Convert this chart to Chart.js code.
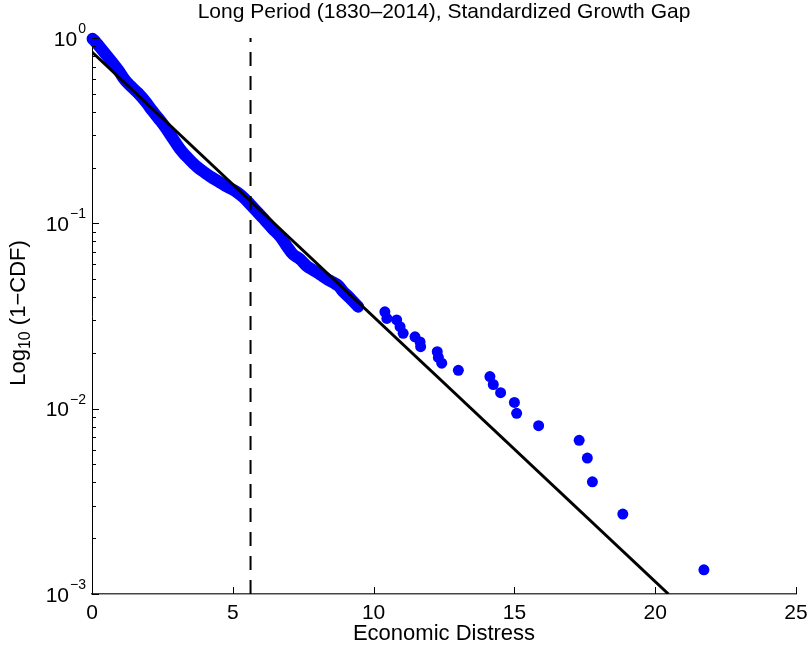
<!DOCTYPE html>
<html>
<head>
<meta charset="utf-8">
<script src="https://cdn.jsdelivr.net/npm/chart.js@4.4.1/dist/chart.umd.min.js"></script>
<style>
  html, body { margin: 0; padding: 0; background: #fff; }
  #wrap { width: 810px; height: 652px; }
</style>
</head>
<body>
<div id="wrap"><canvas id="distressChart" width="810" height="652"></canvas></div>
<script>
const titleText = 'Long Period (1830–2014), Standardized Growth Gap';
const xTitle = 'Economic Distress';
const xTicks = [0, 5, 10, 15, 20, 25];
const yDecades = [1e-3, 1e-2, 1e-1, 1e0];
const yExponents = ['−3', '−2', '−1', '0'];

// dense part of the empirical 1-CDF (read along the blue band)
const bandX = [0.02, 0.12, 0.22, 0.45, 0.70, 0.95, 1.17, 1.40, 1.63, 1.94, 2.12, 2.35, 2.59, 2.85,
  3.12, 3.35, 3.59, 3.76, 4.00, 4.25, 4.50, 4.72, 5.00, 5.18, 5.40, 5.65, 5.90, 6.14, 6.40, 6.68,
  6.90, 7.14, 7.39, 7.62, 7.85, 8.10, 8.35, 8.56, 8.75, 8.91, 9.16, 9.45];
const bandY = [0.99, 0.955, 0.916, 0.83, 0.745, 0.665, 0.593, 0.545, 0.505, 0.446, 0.409, 0.37, 0.332, 0.29,
  0.252, 0.230, 0.211, 0.200, 0.188, 0.177, 0.168, 0.160, 0.152, 0.146, 0.137, 0.125, 0.114, 0.104, 0.094, 0.085,
  0.076, 0.068, 0.064, 0.059, 0.056, 0.053, 0.050, 0.048, 0.046, 0.043, 0.0395, 0.0355];

// isolated observations further out
const tailX = [10.40, 10.47, 10.82, 10.94, 11.05, 11.47, 11.65, 11.67, 12.26, 12.30, 12.42, 13.01,
  14.13, 14.25, 14.51, 15.00, 15.08, 15.86, 17.30, 17.59, 17.77, 18.85, 21.73];
const tailY = [0.0333, 0.0307, 0.0301, 0.0277, 0.0255, 0.0244, 0.0229, 0.0216, 0.0203, 0.0189, 0.0176, 0.0161,
  0.0149, 0.0135, 0.0122, 0.0108, 0.00944, 0.00809, 0.00675, 0.00541, 0.00403, 0.00270, 0.00135];

// fitted exponential tail and threshold
const fitX = [0, 20.47];
const fitY = [0.84, 0.001];
const thresholdX = 5.63;

const FONT = '"Liberation Sans", Arial, Helvetica, sans-serif';
const BLUE = '#0000ff';
const BIG = '21px ' + FONT;
const SMALL = '14px ' + FONT;

function pts(xs, ys) {
    return xs.map(function(x, i) { return { x: x, y: ys[i] }; });
}

// ticks, tick labels and titles drawn MATLAB style
const decorations = {
    id: 'decorations',
    afterDraw: function(chart) {
        const ctx = chart.ctx;
        const xs = chart.scales.x;
        const ys = chart.scales.y;
        const area = chart.chartArea;
        ctx.save();
        ctx.strokeStyle = '#000';
        ctx.lineWidth = 1;

        // x ticks, pointing inward
        xTicks.forEach(function(v) {
            const px = Math.round(xs.getPixelForValue(v)) + 0.5;
            ctx.beginPath();
            ctx.moveTo(px, area.bottom);
            ctx.lineTo(px, area.bottom - 7);
            ctx.stroke();
        });
        // y ticks, majors and minors
        yDecades.forEach(function(d, i) {
            const py = Math.round(ys.getPixelForValue(d)) + 0.5;
            ctx.beginPath();
            ctx.moveTo(area.left, py);
            ctx.lineTo(area.left + 7, py);
            ctx.stroke();
            if (i < yDecades.length - 1) {
                for (let m = 2; m <= 9; m++) {
                    const my = Math.round(ys.getPixelForValue(d * m)) + 0.5;
                    ctx.beginPath();
                    ctx.moveTo(area.left, my);
                    ctx.lineTo(area.left + 4, my);
                    ctx.stroke();
                }
            }
        });

        ctx.fillStyle = '#000';
        ctx.textBaseline = 'middle';

        // x tick labels
        ctx.font = BIG;
        ctx.textAlign = 'center';
        xTicks.forEach(function(v) {
            ctx.fillText(String(v), xs.getPixelForValue(v), area.bottom + 19);
        });

        // y tick labels 10^k
        yDecades.forEach(function(d, i) {
            const py = ys.getPixelForValue(d);
            ctx.font = SMALL;
            const ew = ctx.measureText(yExponents[i]).width;
            ctx.textAlign = 'left';
            const right = area.left - 6;
            ctx.fillText(yExponents[i], right - ew, py - 9);
            ctx.font = BIG;
            ctx.textAlign = 'right';
            ctx.fillText('10', right - ew - 1, py + 2);
        });

        // x title
        ctx.font = '22px ' + FONT;
        ctx.textAlign = 'center';
        ctx.fillText(xTitle, (area.left + area.right) / 2, area.bottom + 40);

        // title
        ctx.font = BIG;
        ctx.fillText(titleText, (area.left + area.right) / 2, 12);

        // y title with subscript
        const yBig = '22px ' + FONT;
        const ySmall = '16px ' + FONT;
        ctx.translate(19, (area.top + area.bottom) / 2 - 3);
        ctx.rotate(-Math.PI / 2);
        ctx.font = yBig;
        const wLog = ctx.measureText('Log').width;
        const wRest = ctx.measureText(' (1−CDF)').width;
        ctx.font = ySmall;
        const wSub = ctx.measureText('10').width;
        const start = -(wLog + wSub + wRest) / 2;
        ctx.textAlign = 'left';
        ctx.font = yBig;
        ctx.fillText('Log', start, 0);
        ctx.font = ySmall;
        ctx.fillText('10', start + wLog, 7);
        ctx.font = yBig;
        ctx.fillText(' (1−CDF)', start + wLog + wSub, 0);
        ctx.restore();
    }
};

const ctx = document.getElementById('distressChart');
const distressChart = new Chart(ctx.getContext('2d'), {
    type: 'scatter',
    data: {
        datasets: [{
            label: 'Fit',
            data: pts(fitX, fitY),
            showLine: true,
            borderColor: '#000',
            borderWidth: 3,
            pointRadius: 0
        }, {
            label: 'Threshold',
            data: pts([thresholdX, thresholdX], [yDecades[0], yDecades[yDecades.length - 1]]),
            showLine: true,
            borderColor: '#000',
            borderWidth: 2,
            borderDash: [14, 10],
            pointRadius: 0
        }, {
            label: 'Tail',
            data: pts(tailX, tailY),
            backgroundColor: BLUE,
            borderColor: BLUE,
            borderWidth: 0,
            pointRadius: 5.5,
            clip: false
        }, {
            label: 'Band',
            data: pts(bandX, bandY),
            showLine: true,
            tension: 0.4,
            borderColor: BLUE,
            borderWidth: 12,
            borderCapStyle: 'round',
            borderJoinStyle: 'round',
            backgroundColor: BLUE,
            pointBorderWidth: 0,
            pointRadius: 5.5,
            clip: false
        }]
    },
    options: {
        responsive: false,
        animation: false,
        layout: { padding: { left: 0, right: 14, top: 38, bottom: 0 } },
        plugins: {
            legend: { display: false },
            tooltip: { enabled: false }
        },
        scales: {
            x: {
                type: 'linear',
                min: 0,
                max: 25,
                grid: { display: false },
                border: { display: true, color: '#444', width: 1.5 },
                ticks: { display: false },
                afterFit: function(scale) { scale.height = 58; }
            },
            y: {
                type: 'logarithmic',
                min: 0.001,
                max: 1,
                grid: { display: false },
                border: { display: true, color: '#000', width: 1 },
                ticks: { display: false },
                afterFit: function(scale) { scale.width = 92; }
            }
        }
    },
    plugins: [decorations]
});
</script>
</body>
</html>
